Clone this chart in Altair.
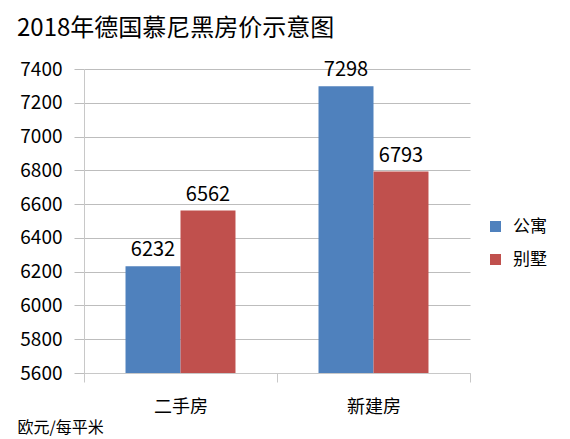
import altair as alt
import pandas as pd

categories = ["二手房", "二手房", "新建房", "新建房"]
series = ["公寓", "别墅", "公寓", "别墅"]
values = [6232, 6562, 7298, 6793]
y_ticks = list(range(5600, 7401, 200))
series_order = ["公寓", "别墅"]
colors = ["#4F81BD", "#C0504D"]
y_base = 5600

df = pd.DataFrame({"cat": categories, "series": series, "value": values})
FONT = "Noto Sans CJK SC"

x = alt.X("cat:N", sort=["二手房", "新建房"],
          scale=alt.Scale(paddingInner=0, paddingOuter=0),
          axis=alt.Axis(title="欧元/每平米", titleAnchor="start", titleX=-67, titleY=54,
                        titleBaseline="middle", titleFont=FONT, titleFontSize=16,
                        titleFontWeight="normal", titleColor="#000",
                        labelAngle=0, labelFont=FONT, labelFontSize=18, labelColor="#000",
                        labelPadding=16, tickBand="extent", tickSize=9, tickColor="#c8c8c8",
                        domainColor="#c8c8c8", grid=False))
xo = alt.XOffset("series:N", sort=series_order, scale=alt.Scale(paddingInner=0, paddingOuter=0.755))
y = alt.Y("value:Q", scale=alt.Scale(domain=[5600, 7400], nice=False, zero=False),
          axis=alt.Axis(title=None, values=y_ticks, format="d", labelOverlap=False,
                        labelFont=FONT, labelFontSize=19,
                        labelColor="#000", labelPadding=12, tickSize=10, tickColor="#bdbdbd",
                        gridColor="#bdbdbd", domainColor="#c8c8c8", grid=True))

bars = alt.Chart(df).mark_bar().encode(
    x=x, xOffset=xo, y=y, y2=alt.datum(y_base),
    color=alt.Color("series:N", sort=series_order,
                    scale=alt.Scale(domain=series_order, range=colors),
                    legend=alt.Legend(title=None, orient="none", legendX=403, legendY=149,
                                      symbolType="square", symbolSize=121, symbolStrokeWidth=0,
                                      labelFont=FONT, labelFontSize=17, labelColor="#000",
                                      rowPadding=15, labelOffset=9)),
)
labels = alt.Chart(df).mark_text(font=FONT, fontSize=20, baseline="bottom", dy=-6, color="#000").encode(
    x=x, xOffset=xo, y=y,
    text=alt.Text("value:Q", format="d"))

chart = alt.layer(bars, labels).properties(
    width=386, height=304,
    title=alt.TitleParams("2018年德国慕尼黑房价示意图", anchor="start", frame="group", dx=-67,
                          offset=19, font=FONT, fontSize=24, fontWeight="normal", color="#000"),
    autosize=alt.AutoSizeParams(type="none"),
    padding={"left": 76, "top": 61, "right": 92, "bottom": 66},
    background="white",
).configure_view(stroke=None)

chart.save("out.html", embed_options={"renderer": "svg", "actions": False})
